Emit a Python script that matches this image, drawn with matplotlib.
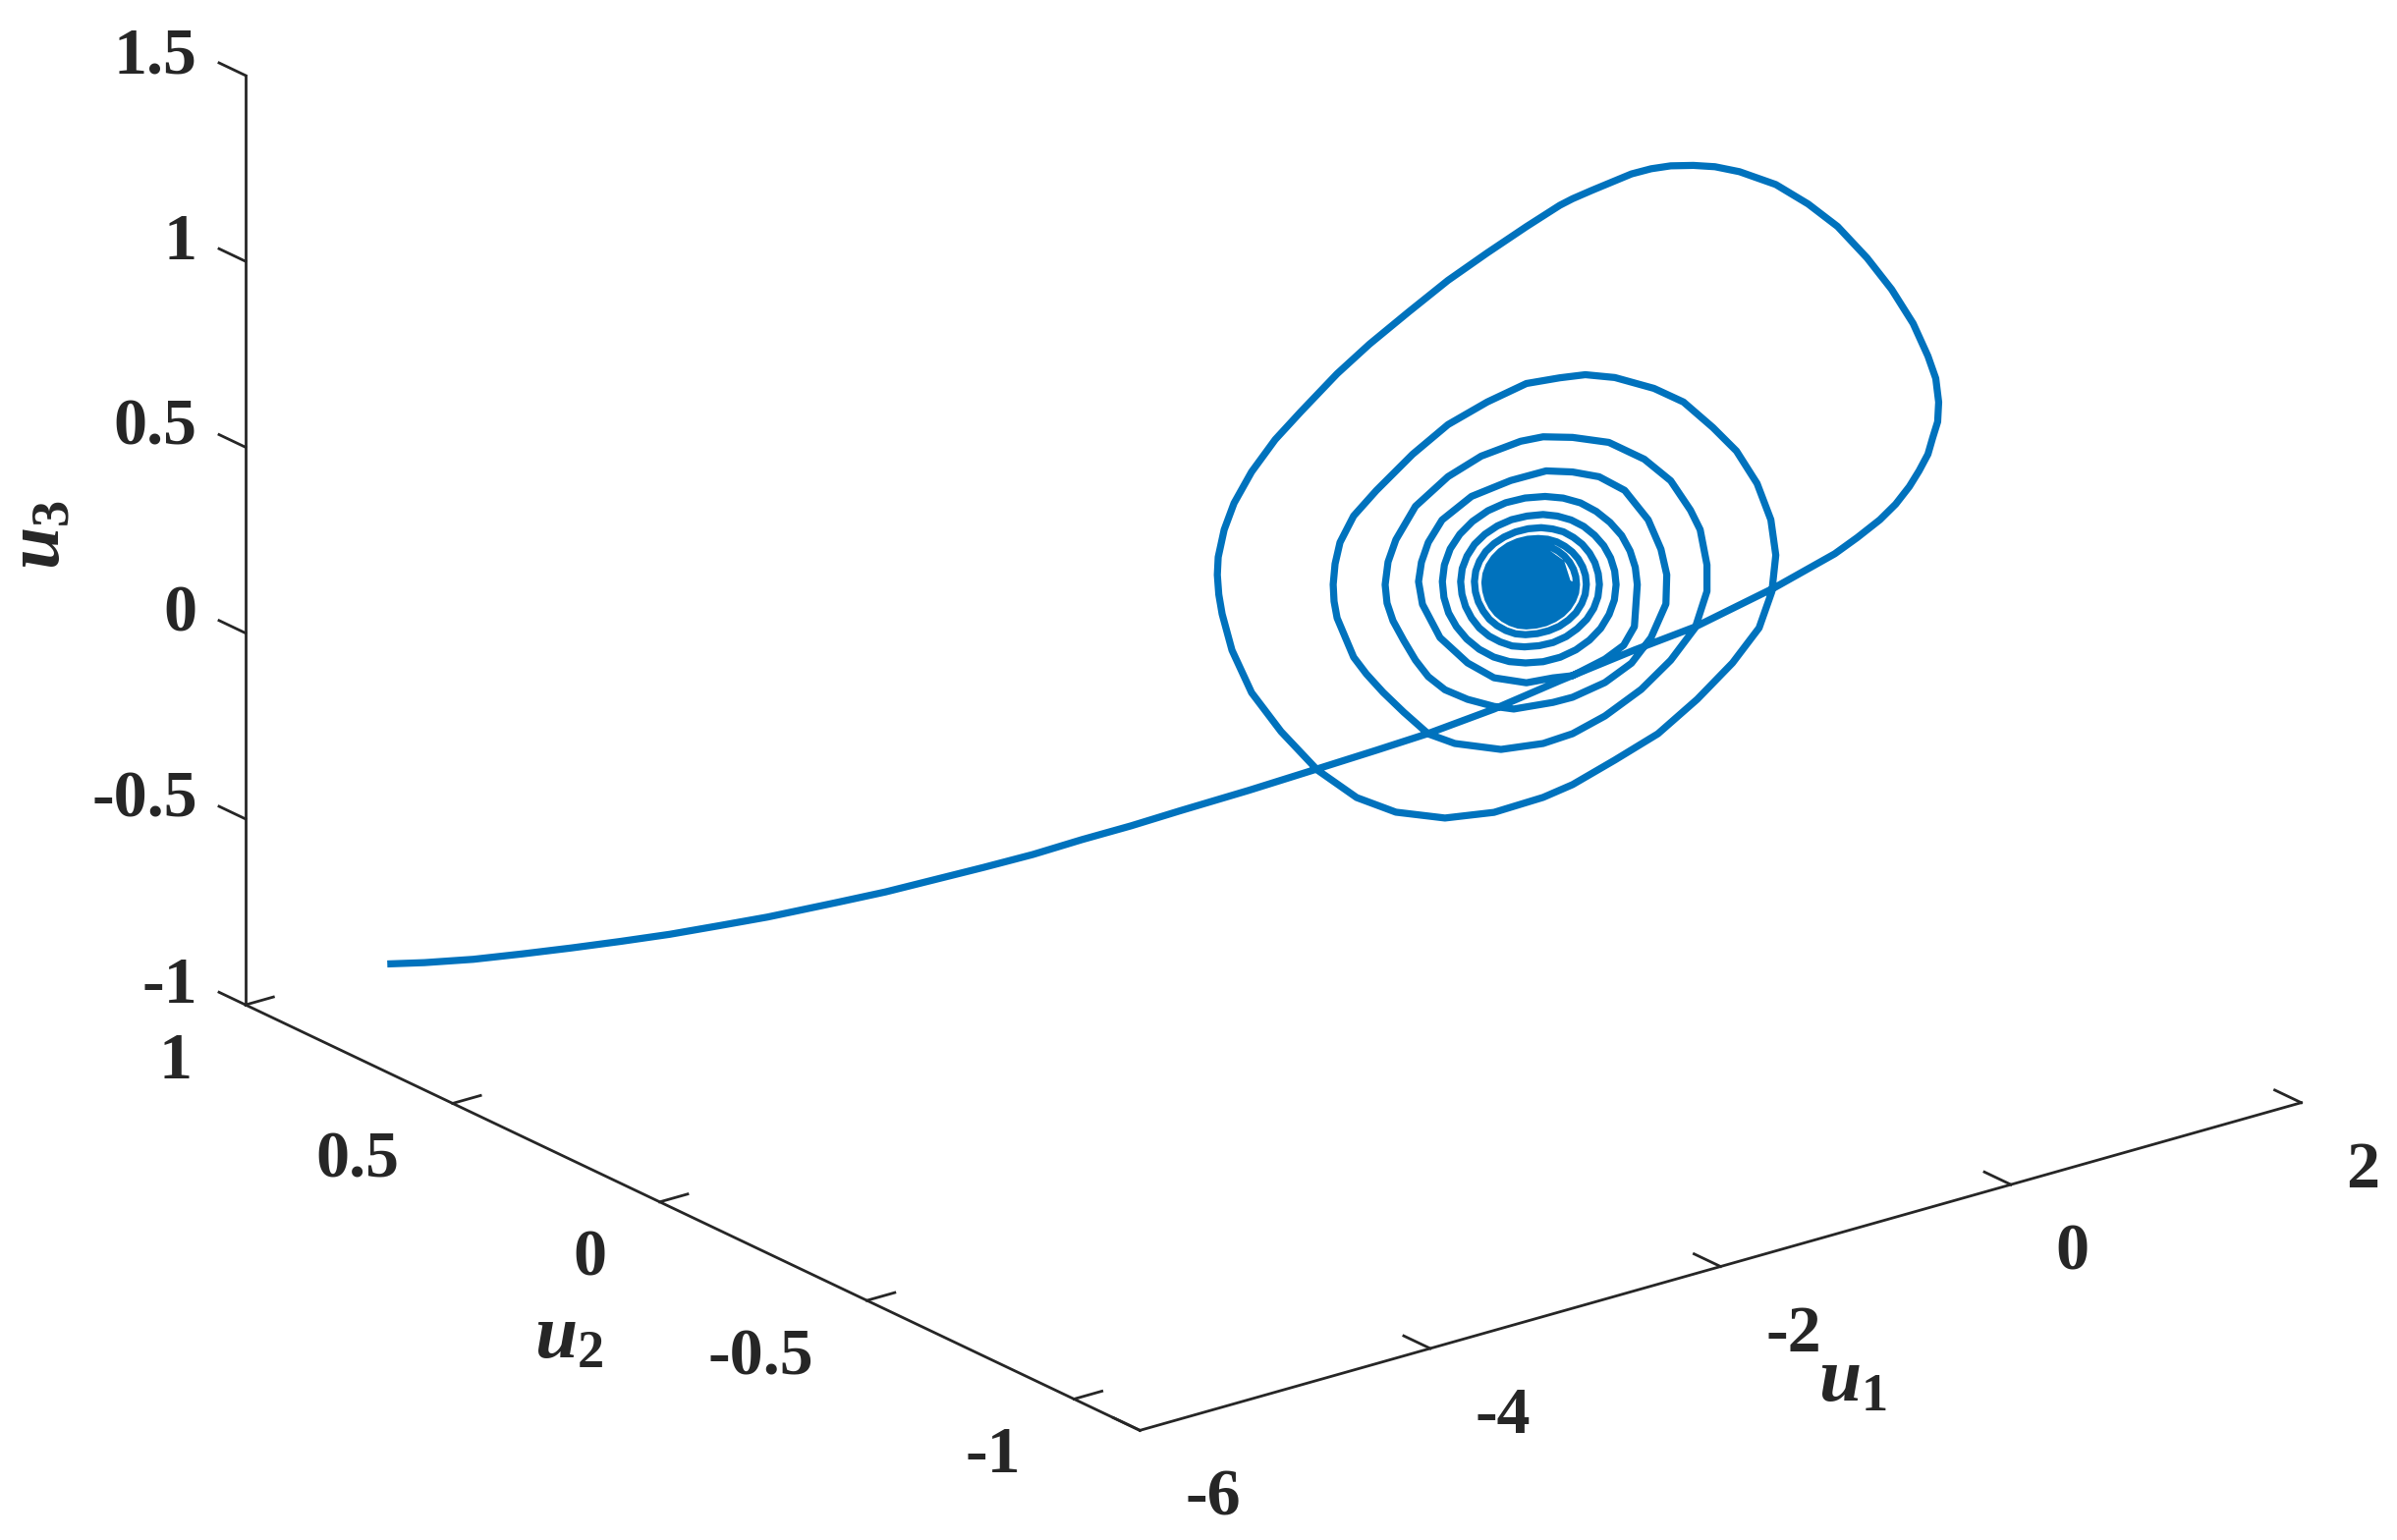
import matplotlib
matplotlib.use("Agg")
import matplotlib.pyplot as plt

plt.rcParams['font.family'] = ['Liberation Serif', 'DejaVu Serif']
plt.rcParams['font.weight'] = 'bold'
plt.rcParams['mathtext.fontset'] = 'custom'
plt.rcParams['mathtext.it'] = 'Liberation Serif:italic:bold'
plt.rcParams['mathtext.rm'] = 'Liberation Serif:bold'

LINE = '#0072BD'
INK = '#262626'

# approach from the start point up to the right side of the first loop
u1_tail = [-4.999, -4.911, -4.716, -4.549, -4.354, -4.187, -3.991, -3.796, -3.629, -3.299, -3.132, -2.936,
           -2.741, -2.574, -2.379, -2.183, -2.016, -1.686, -1.355, -1.120, -0.905, -0.594, -0.313, 0.058,
           0.306, 0.705, 0.981, 1.051, 1.121, 1.158, 1.181]
u2_tail = [1.00, 0.95, 0.90, 0.84, 0.79, 0.73, 0.68, 0.63, 0.57, 0.52, 0.46, 0.41,
           0.36, 0.30, 0.25, 0.20, 0.14, 0.09, 0.04, -0.02, -0.07, -0.12, -0.18, -0.23,
           -0.29, -0.34, -0.39, -0.42, -0.45, -0.475, -0.50]
u3_tail = [-1.000, -0.980, -0.966, -0.938, -0.917, -0.886, -0.862, -0.834, -0.797, -0.768, -0.726, -0.688,
           -0.650, -0.602, -0.557, -0.515, -0.461, -0.416, -0.368, -0.312, -0.264, -0.206, -0.129, -0.061,
           0.006, 0.093, 0.181, 0.233, 0.289, 0.340, 0.398]

# the three wide turns of the spiral
u1_wide = [1.248, 1.309, 1.342, 1.376, 1.383, 1.363, 1.309, 1.207, 1.059, 0.890, 0.687, 0.484, 0.261, 0.011, -0.158,
           -0.307, -0.463, -0.598, -0.733, -0.868, -1.004, -1.139, -1.227, -1.457, -1.727, -1.997, -2.268, -2.538, -2.761, -3.012,
           -3.187, -3.350, -3.471, -3.539, -3.580, -3.586, -3.576, -3.553, -3.485, -3.350, -3.147, -2.897, -2.626,
           -2.356, -2.018, -1.680, -1.342, -1.139, -0.848, -0.551, -0.280, -0.037, 0.146, 0.234, 0.261,
           0.227, 0.132, -0.010, -0.172, -0.375, -0.578, -0.848, -1.051, -1.227, -1.457, -1.727, -1.997,
           -2.241, -2.491, -2.647, -2.741, -2.775, -2.788, -2.782, -2.761, -2.647, -2.559, -2.444, -2.302, -2.133, -1.950, -1.632, -1.342,
           -1.139, -0.916, -0.666, -0.463, -0.294, -0.213, -0.213, -0.260, -0.327, -0.463, -0.645, -0.889,
           -1.139, -1.342, -1.497, -1.768, -1.997, -2.221, -2.356, -2.410, -2.430, -2.417, -2.376, -2.302, -2.221, -2.133, -2.018, -1.862, -1.680,
           -1.544, -1.274, -1.139, -0.916, -0.733, -0.598, -0.496, -0.490, -0.530, -0.618, -0.780, -0.956,
           -1.139, -1.321, -1.565, -1.835, -2.038, -2.133, -2.180, -2.200, -2.173, -2.052, -1.862, -1.680, -1.457,
           -1.274, -1.139, -0.916, -0.787, -0.713, -0.693]
u3_wide = [0.433, 0.471, 0.512, 0.551, 0.603, 0.669, 0.735, 0.834, 0.942, 1.045, 1.152, 1.235, 1.312, 1.374, 1.406,
           1.426, 1.442, 1.449, 1.450, 1.443, 1.436, 1.428, 1.420, 1.388, 1.347, 1.303, 1.248, 1.191, 1.136, 1.061,
           1.006, 0.937, 0.866, 0.802, 0.733, 0.686, 0.632, 0.577, 0.472, 0.343, 0.216, 0.085, -0.019,
           -0.088, -0.141, -0.163, -0.160, -0.148, -0.114, -0.076, -0.013, 0.058, 0.132, 0.220, 0.315,
           0.414, 0.522, 0.625, 0.706, 0.797, 0.856, 0.915, 0.945, 0.956, 0.966, 0.946, 0.915,
           0.862, 0.792, 0.741, 0.680, 0.626, 0.572, 0.526, 0.479, 0.361, 0.306, 0.244, 0.175, 0.098, 0.052, 0.001, -0.015,
           -0.011, 0.012, 0.056, 0.112, 0.181, 0.270, 0.341, 0.441, 0.501, 0.595, 0.673, 0.745,
           0.786, 0.810, 0.815, 0.805, 0.775, 0.720, 0.645, 0.591, 0.532, 0.481, 0.429, 0.368, 0.306, 0.252, 0.204, 0.161, 0.122,
           0.100, 0.088, 0.087, 0.102, 0.134, 0.188, 0.267, 0.345, 0.418, 0.507, 0.604, 0.660,
           0.693, 0.716, 0.717, 0.704, 0.663, 0.613, 0.565, 0.515, 0.451, 0.348, 0.259, 0.199, 0.161,
           0.154, 0.145, 0.165, 0.188, 0.230, 0.341]

# narrower turns, each row of four quarters starts on the right side of the ring
u1_narrow = [-0.707, -0.743, -0.801, -0.881, -0.976, -1.085, -1.204, -1.328,
             -1.466, -1.599, -1.722, -1.828, -1.916, -1.982, -2.022, -2.036,
             -2.025, -1.993, -1.939, -1.868, -1.782, -1.682, -1.575, -1.463,
             -1.342, -1.224, -1.116, -1.022, -0.945, -0.887, -0.851, -0.839,
             -0.849, -0.877, -0.924, -0.987, -1.062, -1.149, -1.244, -1.342,
             -1.453, -1.559, -1.657, -1.743, -1.814, -1.866, -1.899, -1.910,
             -1.901, -1.876, -1.835, -1.781, -1.714, -1.638, -1.556, -1.470,
             -1.369, -1.273, -1.183, -1.106, -1.041, -0.993, -0.964, -0.954,
             -0.962, -0.985, -1.022, -1.072, -1.132, -1.202, -1.277, -1.355,
             -1.445, -1.531, -1.611, -1.680, -1.737, -1.780, -1.806, -1.815,
             -1.808, -1.788, -1.755, -1.712, -1.659, -1.598, -1.532, -1.463,
             -1.382, -1.303, -1.230, -1.167, -1.115, -1.076, -1.052, -1.044,
             -1.050, -1.069, -1.100, -1.141, -1.192, -1.248, -1.311, -1.375,
             -1.447, -1.516, -1.580, -1.635, -1.680, -1.715, -1.736, -1.743,
             -1.737, -1.721, -1.695, -1.659, -1.615, -1.566, -1.512, -1.457,
             -1.390, -1.325, -1.265, -1.212, -1.170, -1.138, -1.118, -1.112,
             -1.117, -1.133, -1.160, -1.195, -1.238, -1.287, -1.340, -1.396,
             -1.457, -1.515, -1.569, -1.615, -1.654, -1.683, -1.701, -1.707,
             -1.702, -1.686, -1.662, -1.630, -1.590, -1.544, -1.494, -1.443,
             -1.386, -1.331, -1.281, -1.238, -1.202, -1.175, -1.163, -1.152]
u3_narrow = [0.389, 0.437, 0.485, 0.529, 0.569, 0.604, 0.630, 0.648,
             0.659, 0.661, 0.653, 0.636, 0.611, 0.579, 0.540, 0.497,
             0.453, 0.408, 0.365, 0.324, 0.287, 0.255, 0.231, 0.215,
             0.205, 0.204, 0.212, 0.228, 0.251, 0.282, 0.317, 0.357,
             0.395, 0.433, 0.471, 0.506, 0.538, 0.565, 0.586, 0.601,
             0.609, 0.611, 0.605, 0.592, 0.573, 0.547, 0.517, 0.483,
             0.448, 0.412, 0.377, 0.344, 0.315, 0.291, 0.271, 0.259,
             0.251, 0.249, 0.255, 0.268, 0.286, 0.310, 0.338, 0.370,
             0.400, 0.432, 0.462, 0.491, 0.516, 0.539, 0.555, 0.567,
             0.574, 0.575, 0.570, 0.560, 0.545, 0.524, 0.500, 0.473,
             0.444, 0.415, 0.387, 0.360, 0.337, 0.317, 0.301, 0.291,
             0.285, 0.284, 0.288, 0.298, 0.312, 0.332, 0.354, 0.380,
             0.405, 0.430, 0.455, 0.478, 0.499, 0.517, 0.531, 0.540,
             0.546, 0.547, 0.543, 0.534, 0.521, 0.504, 0.484, 0.462,
             0.439, 0.415, 0.392, 0.370, 0.351, 0.335, 0.322, 0.314,
             0.309, 0.308, 0.312, 0.320, 0.332, 0.348, 0.366, 0.387,
             0.409, 0.431, 0.453, 0.473, 0.491, 0.507, 0.519, 0.527,
             0.532, 0.532, 0.529, 0.520, 0.508, 0.493, 0.475, 0.455,
             0.435, 0.415, 0.395, 0.376, 0.359, 0.345, 0.334, 0.326,
             0.322, 0.321, 0.325, 0.332, 0.343, 0.357, 0.374, 0.392]

# tight turns around the equilibrium, they merge into a disc
u1_core = [-1.170, -1.218, -1.344, -1.502, -1.628, -1.676, -1.628, -1.502, -1.344, -1.218,
           -1.193, -1.237, -1.352, -1.494, -1.609, -1.653, -1.609, -1.494, -1.352, -1.237,
           -1.234, -1.270, -1.364, -1.482, -1.576, -1.612, -1.576, -1.482, -1.364, -1.270,
           -1.274, -1.303, -1.377, -1.469, -1.543, -1.572, -1.543, -1.469, -1.377, -1.303,
           -1.315, -1.335, -1.389, -1.457, -1.511, -1.531, -1.511, -1.457, -1.389, -1.335,
           -1.355, -1.368, -1.402, -1.444, -1.478, -1.491, -1.478, -1.444, -1.402, -1.368,
           -1.396, -1.423, -1.450, -1.423, -1.423]
u3_core = [0.393, 0.457, 0.506, 0.524, 0.502, 0.449, 0.385, 0.336, 0.318, 0.340,
           0.395, 0.453, 0.498, 0.515, 0.494, 0.447, 0.389, 0.344, 0.327, 0.348,
           0.400, 0.448, 0.485, 0.498, 0.481, 0.442, 0.394, 0.357, 0.344, 0.361,
           0.404, 0.442, 0.471, 0.482, 0.468, 0.438, 0.400, 0.371, 0.360, 0.374,
           0.409, 0.436, 0.457, 0.465, 0.455, 0.433, 0.406, 0.385, 0.377, 0.387,
           0.413, 0.431, 0.444, 0.449, 0.443, 0.429, 0.411, 0.398, 0.393, 0.399,
           0.418, 0.430, 0.424, 0.412, 0.421]

x_ticks = [-6, -4, -2, 0, 2]
x_labels = ['-6', '-4', '-2', '0', '2']
y_ticks = [-1, -0.5, 0, 0.5, 1]
y_labels = ['-1', '-0.5', '0', '0.5', '1']
z_ticks = [-1, -0.5, 0, 0.5, 1, 1.5]
z_labels = ['-1', '-0.5', '0', '0.5', '1', '1.5']

u1 = u1_tail + u1_wide + u1_narrow + u1_core
u3 = u3_tail + u3_wide + u3_narrow + u3_core
u2 = u2_tail + [-0.5] * (len(u1_wide) + len(u1_narrow) + len(u1_core))

fig = plt.figure(figsize=(24.4, 15.68), dpi=100)
ax = fig.add_axes([0.05266, -0.12723, 0.93197, 1.45026], projection='3d', proj_type='ortho')
ax.view_init(elev=21.5, azim=-127.6)
ax.set_box_aspect((1493.5, 1493.5, 1018))

ax.plot(u1, u2, u3, color=LINE, linewidth=5.2, solid_joinstyle='round')

ax.set_xlim(-6, 2, view_margin=0)
ax.set_ylim(-1.159, 1, view_margin=0)
ax.set_zlim(-1, 1.5, view_margin=0)
ax.set_xticks(x_ticks, x_labels)
ax.set_yticks(y_ticks, y_labels)
ax.set_zticks(z_ticks, z_labels)
ax.grid(False)

out_factor = {ax.xaxis: 0.37, ax.yaxis: 0.30, ax.zaxis: 0.37}
for axis in (ax.xaxis, ax.yaxis, ax.zaxis):
    axis.set_pane_color((1, 1, 1, 0))
    axis.line.set_color(INK)
    axis.line.set_linewidth(2)
    axis._axinfo['tick']['inward_factor'] = 0
    axis._axinfo['tick']['outward_factor'] = out_factor[axis]
    axis._axinfo['tick']['linewidth'] = {True: 2, False: 1}

# z axis on the left edge, ticks pointing along u2 like the original
ax.zaxis.set_ticks_position('upper')
ax.zaxis._get_tickdir = lambda pos: 1

ax.tick_params(axis='both', colors=INK, labelsize=49)
ax.tick_params(axis='x', pad=35)
ax.tick_params(axis='y', pad=31)
ax.tick_params(axis='z', colors=INK, labelsize=49, pad=12)
for lab in ax.get_xticklabels():
    lab.set_ha('left')
    lab.set_va('center')
for lab in ax.get_yticklabels():
    lab.set_ha('right')
    lab.set_va('center')
for lab in ax.get_zticklabels():
    lab.set_ha('right')
    lab.set_va('baseline')

fig.text(1886 / 2440, 1 - 1408 / 1568, '$u_1$', fontsize=56, color=INK, ha='center', va='center')
fig.text(579 / 2440, 1 - 1364 / 1568, '$u_2$', fontsize=56, color=INK, ha='center', va='center')
fig.text(42 / 2440, 1 - 545 / 1568, '$u_3$', fontsize=56, color=INK, ha='center', va='center', rotation=90)

fig.savefig('out.png', dpi=100)
